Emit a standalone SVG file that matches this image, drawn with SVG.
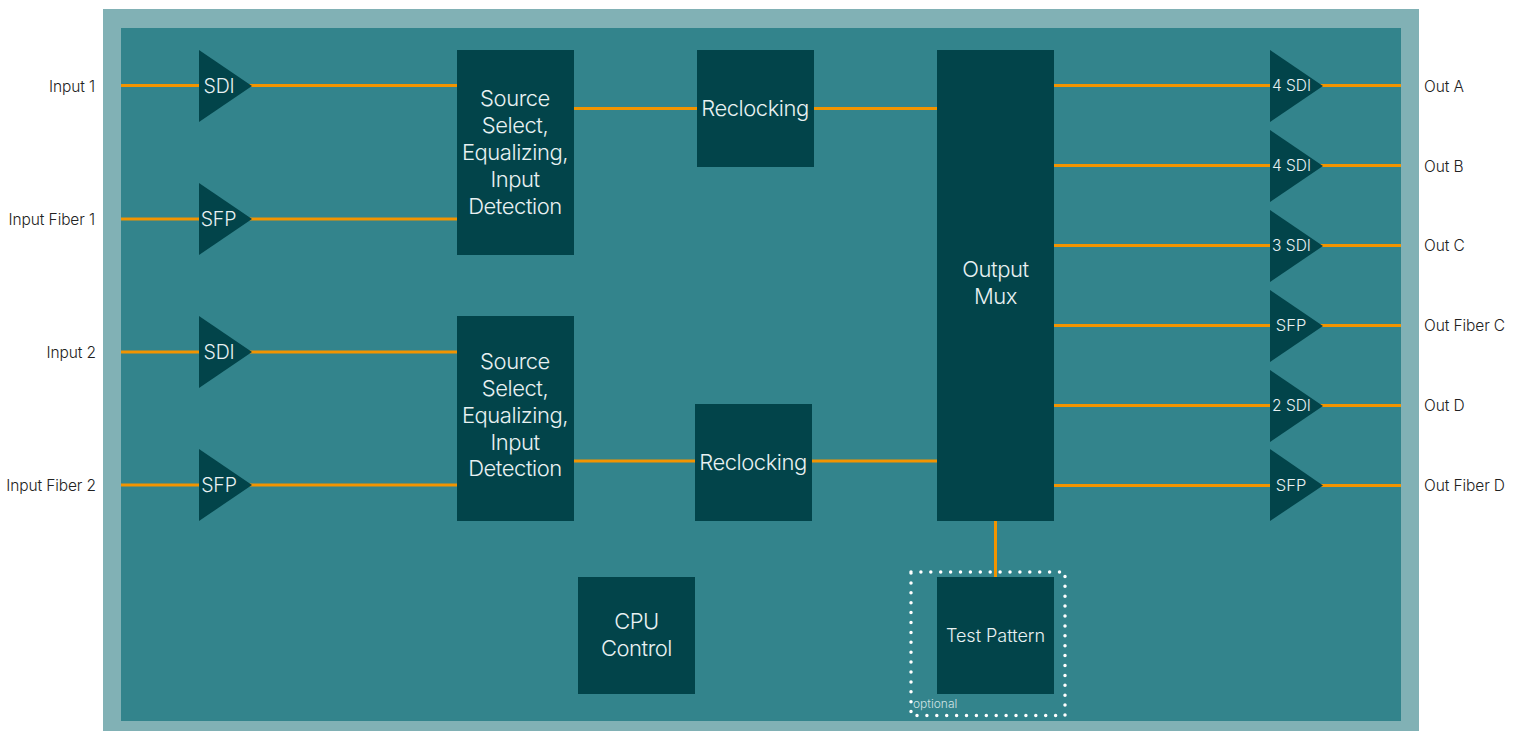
<svg xmlns="http://www.w3.org/2000/svg" width="1516" height="731" viewBox="0 0 1516 731">
<style>
text{font-family:Inter,"Liberation Sans",sans-serif;font-weight:300;text-anchor:middle}
.b{fill:#02444a}
.w{stroke:#f29400;stroke-width:3;fill:none}
.l{fill:#e8f1f2;font-size:22px;letter-spacing:-.45px}
.s{fill:#e8f1f2;font-size:19.500px;letter-spacing:-.1px}
.p{fill:#e8f1f2;font-size:18px}
.t{fill:#e8f1f2;font-size:15.500px}
.u{fill:#e8f1f2;font-size:16.500px}
.o{fill:#222;font-size:15.500px;letter-spacing:-.1px}
.li{text-anchor:end}
.ls{text-anchor:start}
</style>
<rect width="1516" height="731" fill="#fff"/>
<g id="frame"><rect x="103" y="9" width="1316" height="722" fill="#81b1b5"/><rect x="121" y="28" width="1280" height="693" fill="#33848c"/></g>
<g id="connectors">
<path class="w" d="M121 85.500H457M121 219H457M121 352H457M121 485H457M574 108.500H937M574 461H937M1054 85.500H1401M1054 165.500H1401M1054 245.500H1401M1054 325.500H1401M1054 405.500H1401M1054 485.500H1401M995.500 521V577"/>
</g>
<g id="optional"><rect x="911" y="572" width="154" height="143.500" fill="none" stroke="#fff" stroke-width="3.500" stroke-linecap="round" stroke-dasharray="0 9.900"/><text x="913" y="708" style="text-anchor:start;font-size:12px;fill:#cfe3e5">optional</text></g>
<g id="in1"><text class="o li" x="95" y="92">Input 1</text><path class="b" d="M199 50L252 86L199 122Z"/><text class="s" x="219" y="93">SDI</text></g>
<g id="inf1"><text class="o li" x="95" y="225">Input Fiber 1</text><path class="b" d="M199 183L252 219L199 255Z"/><text class="s" x="218.500" y="226">SFP</text></g>
<g id="in2"><text class="o li" x="96" y="358">Input 2</text><path class="b" d="M199 316L252 352L199 388Z"/><text class="s" x="219" y="359">SDI</text></g>
<g id="inf2"><text class="o li" x="96" y="491">Input Fiber 2</text><path class="b" d="M199 449L252 485L199 521Z"/><text class="s" x="219" y="492">SFP</text></g>
<g id="src1"><rect class="b" x="457" y="50" width="117" height="205"/><text class="l" x="515" y="106">Source</text><text class="l" x="515" y="133">Select,</text><text class="l" x="515" y="160">Equalizing,</text><text class="l" x="515" y="187">Input</text><text class="l" x="515" y="214">Detection</text></g>
<g id="src2"><rect class="b" x="457" y="316" width="117" height="205"/><text class="l" x="515" y="369">Source</text><text class="l" x="515" y="396">Select,</text><text class="l" x="515" y="423">Equalizing,</text><text class="l" x="515" y="450">Input</text><text class="l" x="515" y="476">Detection</text></g>
<g id="rc1"><rect class="b" x="697" y="50" width="117" height="117"/><text class="l" x="755" y="116">Reclocking</text></g>
<g id="rc2"><rect class="b" x="695" y="404" width="117" height="117"/><text class="l" x="753" y="470">Reclocking</text></g>
<g id="mux"><rect class="b" x="937" y="50" width="117" height="471"/><text class="l" x="995.500" y="277">Output</text><text class="l" x="995.500" y="304">Mux</text></g>
<g id="cpu"><rect class="b" x="578" y="577" width="117" height="117"/><text class="l" x="636.500" y="629">CPU</text><text class="l" x="636.500" y="656">Control</text></g>
<g id="test"><rect class="b" x="937" y="577" width="117" height="117"/><text class="p" x="995.500" y="642">Test Pattern</text></g>
<g id="oa"><path class="b" d="M1270 50L1323 86L1270 122Z"/><text class="t" x="1291.500" y="91">4 SDI</text><text class="o ls" x="1424" y="92">Out A</text></g>
<g id="ob"><path class="b" d="M1270 130L1323 166L1270 202Z"/><text class="t" x="1291.500" y="171">4 SDI</text><text class="o ls" x="1424" y="172">Out B</text></g>
<g id="oc"><path class="b" d="M1270 210L1323 246L1270 282Z"/><text class="t" x="1291.500" y="251">3 SDI</text><text class="o ls" x="1424" y="251">Out C</text></g>
<g id="ofc"><path class="b" d="M1270 290L1323 326L1270 362Z"/><text class="u" x="1291" y="331">SFP</text><text class="o ls" x="1424" y="331">Out Fiber C</text></g>
<g id="od"><path class="b" d="M1270 370L1323 406L1270 442Z"/><text class="t" x="1291.500" y="411">2 SDI</text><text class="o ls" x="1424" y="411">Out D</text></g>
<g id="ofd"><path class="b" d="M1270 449L1323 485.500L1270 521Z"/><text class="u" x="1291" y="491">SFP</text><text class="o ls" x="1424" y="491">Out Fiber D</text></g>
</svg>
